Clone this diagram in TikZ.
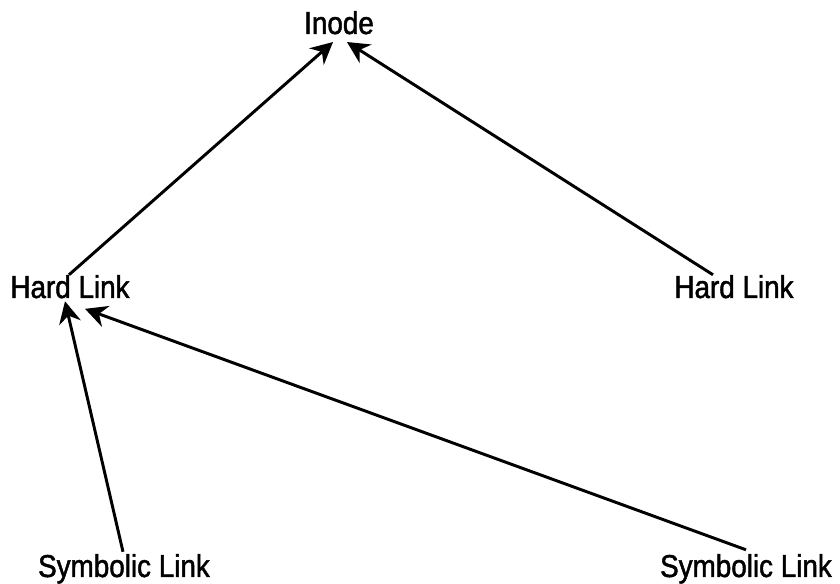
\documentclass[tikz,border=0pt]{standalone}
\usepackage{fontspec}
\setmainfont[FakeStretch=0.88,FakeBold=1.5]{Liberation Sans}
\usetikzlibrary{arrows.meta}

\tikzset{
    linkname/.style={anchor=base, inner sep=0pt, font=\fontsize{22.5}{26}\selectfont,
        text height=0.72em, text depth=0.21em},
    linkarrow/.style={line width=2.1pt, -{Stealth[length=0.55cm, width=0.55cm, inset=0.18cm]}}
}

\begin{document}
\begin{tikzpicture}

        \useasboundingbox (0,0) rectangle (21,14.6);

        % Inode and its names
        \node[linkname] (inode) at (8.475,13.75) {Inode};
        \node[linkname] (hardA) at (1.75,7.15) {Hard Link};
        \node[linkname] (hardB) at (18.35,7.15) {Hard Link};

        % Symbolic links
        \node[linkname] (symA) at (3.1,0.175) {Symbolic Link};
        \node[linkname] (symB) at (18.65,0.175) {Symbolic Link};

        % Hard links point to the inode
        \draw[linkarrow] ([xshift=-0.025cm,yshift=0.32cm]hardA.north) -- ([xshift=-0.15cm,yshift=-0.12cm]inode.south);
        \draw[linkarrow] ([xshift=-0.525cm,yshift=0.32cm]hardB.north) -- ([xshift=0.2cm,yshift=-0.12cm]inode.south);

        % Symbolic links point to a hard link
        \draw[linkarrow] ([xshift=-0.025cm,yshift=0.37cm]symA.north) -- ([xshift=-0.125cm,yshift=0cm]hardA.south);
        \draw[linkarrow] ([yshift=0.42cm]symB.north) -- ([xshift=0.375cm,yshift=-0.19cm]hardA.south);

    \end{tikzpicture}
\end{document}
